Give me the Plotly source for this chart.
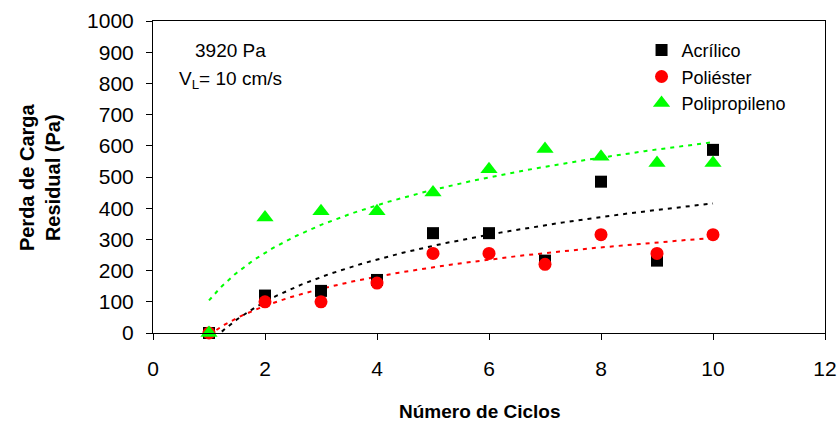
import numpy as np
import plotly.graph_objects as go

ciclos = [1, 2, 3, 4, 5, 6, 7, 8, 9, 10]
acrilico = [0, 120, 135, 170, 320, 320, 232, 485, 232, 587]
poliester = [0, 100, 100, 160, 255, 255, 220, 315, 255, 315]
polipropileno = [0, 370, 390, 390, 450, 525, 590, 565, 545, 545]

x_ticks = [0, 2, 4, 6, 8, 10, 12]
y_ticks = [0, 100, 200, 300, 400, 500, 600, 700, 800, 900, 1000]

FONT = "Liberation Sans, Arial, sans-serif"

series = [
    ("Acrílico", acrilico, "black", "square", 12),
    ("Poliéster", poliester, "#FF0000", "circle", 13),
    ("Polipropileno", polipropileno, "#00FF00", "triangle-up", 15),
]

fig = go.Figure()
xs = np.linspace(1, 10, 200)
for name, ys, color, sym, size in series:
    a, b = np.polyfit(np.log(ciclos), ys, 1)
    fig.add_trace(go.Scatter(
        x=xs, y=a * np.log(xs) + b, mode="lines",
        line=dict(color=color, width=2, dash="4px,5px"),
        showlegend=False, hoverinfo="skip"))

for name, ys, color, sym, size in series:
    fig.add_trace(go.Scatter(
        x=ciclos, y=ys, mode="markers", name=name,
        marker=dict(color=color, symbol=sym, size=size, line=dict(width=0)),
        cliponaxis=False))

fig.update_layout(
    width=840, height=424,
    margin=dict(l=153, r=15, t=21, b=91),
    paper_bgcolor="white", plot_bgcolor="white",
    font=dict(family=FONT, size=21, color="black"),
    showlegend=True,
    legend=dict(x=0.727, y=0.965, xanchor="left", yanchor="top",
                font=dict(size=18), bgcolor="rgba(0,0,0,0)",
                itemwidth=30, tracegroupgap=0),
    xaxis=dict(range=[0, 12], tickvals=x_ticks, showgrid=False, zeroline=False,
               showline=True, linecolor="black", linewidth=1, mirror=True,
               ticks="outside", ticklen=6, tickcolor="black",
               ticklabelstandoff=11, automargin=False),
    yaxis=dict(range=[0, 1000], tickvals=y_ticks, showgrid=False, zeroline=False,
               showline=True, linecolor="black", linewidth=1, mirror=True,
               ticks="outside", ticklen=6, tickcolor="black",
               ticklabelstandoff=8, automargin=False),
    annotations=[
        dict(text="<b>Perda de Carga<br>Residual (Pa)</b>", xref="paper", yref="paper",
             x=-0.168, y=0.5, textangle=-90, showarrow=False,
             font=dict(size=20), xanchor="center", yanchor="middle"),
        dict(text="<b>Número de Ciclos</b>", xref="paper", yref="paper",
             x=0.487, y=-0.25, showarrow=False, font=dict(size=19),
             xanchor="center", yanchor="middle"),
        dict(text="3920 Pa", xref="paper", yref="paper", x=0.116, y=0.904,
             showarrow=False, font=dict(size=19), xanchor="center", yanchor="middle"),
        dict(text="V<sub>L</sub>= 10 cm/s", xref="paper", yref="paper", x=0.116, y=0.81,
             showarrow=False, font=dict(size=19), xanchor="center", yanchor="middle"),
    ],
)

fig.write_html(
    "out.html",
    config={"displayModeBar": False},
    post_script="document.body.style.margin='0';document.body.style.overflow='hidden';",
)
